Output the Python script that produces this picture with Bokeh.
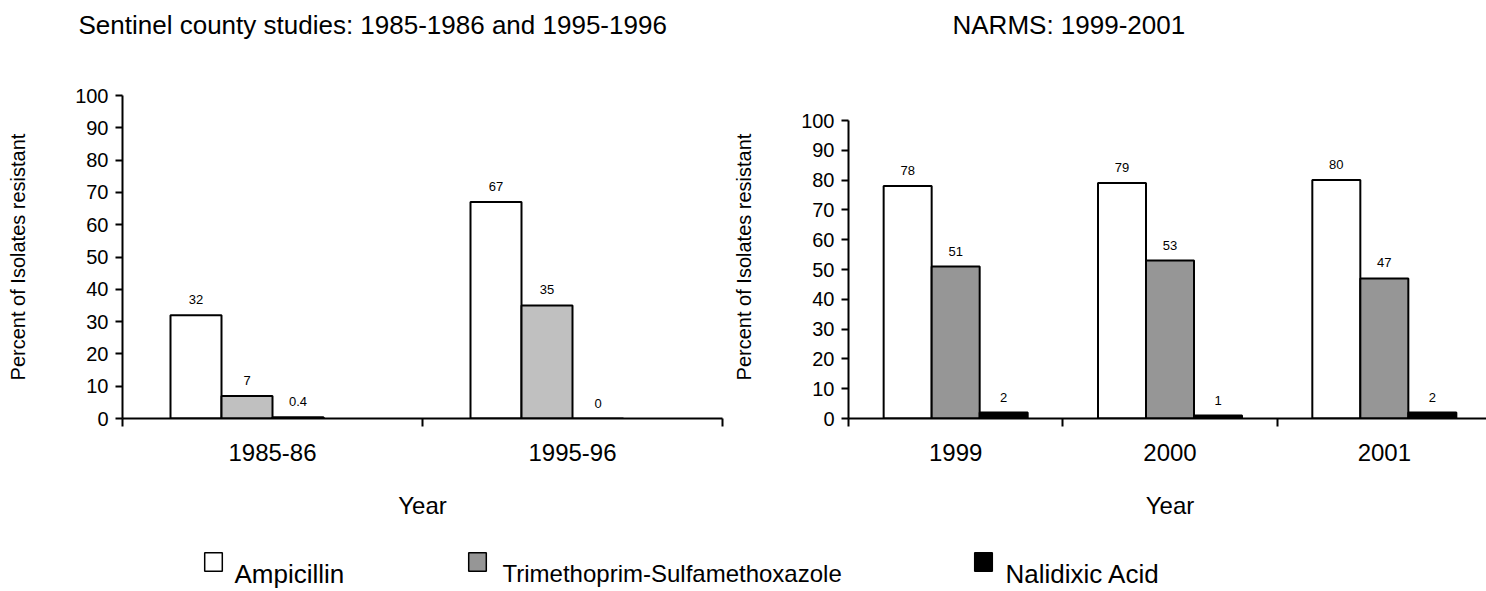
from bokeh.plotting import figure
from bokeh.models import (Range1d, FixedTicker, ColumnDataSource, LabelSet, Label,
                          Legend, LegendItem)
from bokeh.layouts import column, row
from bokeh.embed import file_html
from bokeh.resources import INLINE
from bokeh.core.properties import value
import numpy as np

FONT = "Liberation Sans"

# ---------------- data ----------------
series_names = ["Ampicillin", "Trimethoprim-Sulfamethoxazole", "Nalidixic Acid"]

left_periods = ["1985-86", "1995-96"]
left_ampicillin = [32, 67]
left_tmp_smx = [7, 35]
left_nalidixic = [0.4, 0]

right_years = ["1999", "2000", "2001"]
right_ampicillin = [78, 79, 80]
right_tmp_smx = [51, 53, 47]
right_nalidixic = [2, 1, 2]

y_ticks = [0, 10, 20, 30, 40, 50, 60, 70, 80, 90, 100]

title_left = "Sentinel county studies: 1985-1986 and 1995-1996"
title_right = "NARMS: 1999-2001"
y_title = "Percent of Isolates resistant"
x_title = "Year"

# ---------------- styles ----------------
col_amp = "#FFFFFF"
col_tmp_left = "#C0C0C0"
col_tmp_right = "#969696"
col_nal = "#000000"

TOP_STRIP_H = 50
ROW_BORDER_TOP = 45
FRAME_H = 323
ROW_BORDER_BOTTOM = 112
TOTAL_H = 590


def fmt(v):
    return "%g" % v


def make_chart(cats, series_vals, colors, offsets, bar_w, frame_w,
               b_left, b_right, y_end):
    n = len(cats)
    p = figure(frame_width=frame_w, frame_height=FRAME_H,
               min_border_left=b_left, min_border_right=b_right,
               min_border_top=ROW_BORDER_TOP, min_border_bottom=ROW_BORDER_BOTTOM,
               x_range=Range1d(0, n), y_range=Range1d(0, y_end),
               toolbar_location=None, output_backend="svg",
               background_fill_color="white", border_fill_color="white")
    p.outline_line_color = None
    p.grid.visible = False

    idx = np.arange(n) + 0.5
    for vals, c, off in zip(series_vals, colors, offsets):
        src = ColumnDataSource(dict(x=idx + off, top=vals,
                                    label=[fmt(v) for v in vals]))
        p.vbar(x="x", top="top", bottom=0, width=bar_w, source=src,
               fill_color=c, line_color="black", line_width=2)
        p.add_layout(LabelSet(x="x", y="top", text="label", source=src,
                              y_offset=11, text_align="center",
                              text_baseline="bottom", text_font=value(FONT),
                              text_font_size="13px", text_color="black"))

    # y axis
    ya = p.yaxis[0]
    ya.ticker = FixedTicker(ticks=y_ticks, minor_ticks=[])
    ya.bounds = (0, 100)
    ya.axis_line_color = "black"
    ya.axis_line_width = 2
    ya.major_tick_line_color = "black"
    ya.major_tick_line_width = 2
    ya.major_tick_out = 7
    ya.major_tick_in = 0
    ya.major_label_standoff = 7
    ya.major_label_text_font = FONT
    ya.major_label_text_font_size = "20px"
    ya.major_label_text_color = "black"
    ya.axis_label = y_title
    ya.axis_label_text_font = FONT
    ya.axis_label_text_font_size = "20px"
    ya.axis_label_text_font_style = "normal"
    ya.axis_label_text_color = "black"
    ya.axis_label_standoff = 43

    # x axis: labels at category centres, tick marks at category boundaries
    xa = p.xaxis[0]
    xa.ticker = FixedTicker(ticks=list(idx), minor_ticks=list(range(n + 1)))
    xa.major_label_overrides = {float(i): c for i, c in zip(idx, cats)}
    xa.axis_line_color = "black"
    xa.axis_line_width = 2
    xa.major_tick_line_color = None
    xa.major_tick_out = 0
    xa.major_tick_in = 0
    xa.minor_tick_line_color = "black"
    xa.minor_tick_line_width = 2
    xa.minor_tick_out = 8
    xa.minor_tick_in = 0
    xa.major_label_standoff = 17
    xa.major_label_text_font = FONT
    xa.major_label_text_font_size = "24px"
    xa.major_label_text_color = "black"
    xa.axis_label = x_title
    xa.axis_label_text_font = FONT
    xa.axis_label_text_font_size = "24px"
    xa.axis_label_text_font_style = "normal"
    xa.axis_label_text_color = "black"
    xa.axis_label_standoff = 28
    return p


p1 = make_chart(left_periods, [left_ampicillin, left_tmp_smx, left_nalidixic],
                [col_amp, col_tmp_left, col_nal],
                [-0.255, -0.085, 0.085], 0.17,
                600, 122, 8, 100)

# right panel: same frame height, but its 0-100 scale spans 298 px
p2 = make_chart(right_years, [right_ampicillin, right_tmp_smx, right_nalidixic],
                [col_amp, col_tmp_right, col_nal],
                [-0.224, 0.0, 0.224], 0.224,
                643, 112, 1, 100 * FRAME_H / 298.0)

# ---------------- title strip ----------------
ts = figure(width=1486, height=TOP_STRIP_H, x_range=Range1d(0, 1),
            y_range=Range1d(0, 1), toolbar_location=None, output_backend="svg",
            min_border=0, x_axis_type=None, y_axis_type=None,
            background_fill_color="white", border_fill_color="white")
ts.outline_line_color = None
ts.grid.visible = False
for txt, tx in [(title_left, 78), (title_right, 952)]:
    ts.add_layout(Label(x=tx, y=TOP_STRIP_H - 24, x_units="screen",
                        y_units="screen", text=txt, text_font=FONT,
                        text_font_size="26px", text_color="black",
                        text_baseline="middle", text_align="left"))

# ---------------- legend strip ----------------
row_h = TOP_STRIP_H + ROW_BORDER_TOP + FRAME_H + ROW_BORDER_BOTTOM
leg_h = TOTAL_H - row_h
lf = figure(width=1486, height=leg_h, x_range=Range1d(0, 1),
            y_range=Range1d(0, 1), toolbar_location=None, output_backend="svg",
            min_border=0, x_axis_type=None, y_axis_type=None,
            background_fill_color="white", border_fill_color="white")
lf.outline_line_color = None
lf.grid.visible = False

legend_colors = [col_amp, col_tmp_right, col_nal]
legend_vals = [right_ampicillin, right_tmp_smx, right_nalidixic]
legend_box_x = [202, 466, 972]
legend_text_x = [234, 502, 1005]
legend_sizes = ["26px", "24px", "26px"]
for name, c, vals, bx, tx, fs in zip(series_names, legend_colors, legend_vals,
                                     legend_box_x, legend_text_x, legend_sizes):
    r = lf.vbar(x=list(range(len(vals))), top=vals, width=0.5, fill_color=c,
                line_color="black", line_width=1.5, visible=False)
    lg = Legend(items=[LegendItem(label=" ", renderers=[r])],
                location=(bx, 17), orientation="horizontal",
                border_line_color=None, background_fill_alpha=0,
                padding=0, margin=0, spacing=0,
                glyph_width=22, glyph_height=23, label_standoff=0,
                label_width=0, label_height=0,
                label_text_font=FONT, label_text_font_size="1px")
    lf.add_layout(lg)
    lf.add_layout(Label(x=tx, y=17, x_units="screen", y_units="screen",
                        text=name, text_font=FONT, text_font_size=fs,
                        text_color="black", text_baseline="alphabetic",
                        text_align="left"))

layout = column(ts, row(p1, p2), lf)
open("out.html", "w").write(file_html(layout, INLINE))
